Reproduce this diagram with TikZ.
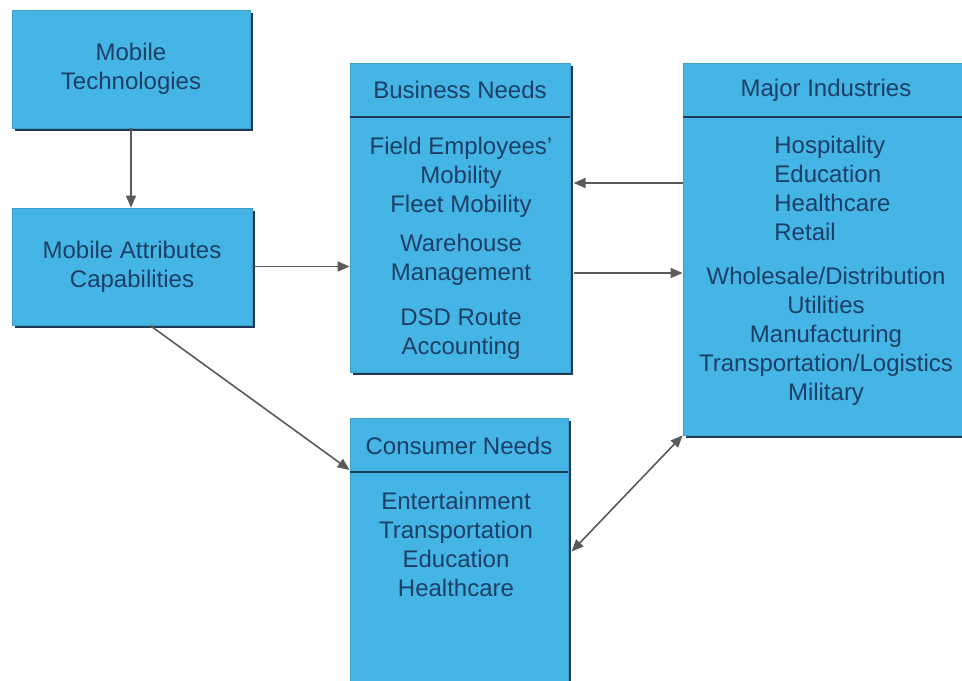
\documentclass[tikz,border=0pt]{standalone}
\usepackage{fontspec}
\setmainfont{Liberation Sans}
\usetikzlibrary{positioning,shadows,arrows.meta}

\definecolor{boxfill}{HTML}{45B5E6}
\definecolor{boxshade}{HTML}{1E3A57}
\definecolor{boxtext}{HTML}{1C3F66}
\definecolor{arrowline}{HTML}{5A5A5A}

\tikzset{
  box/.style={rectangle, fill=boxfill, draw=boxfill!88!black, line width=0.4pt,
    drop shadow={shadow xshift=1.6pt, shadow yshift=-1.6pt, fill=boxshade, opacity=1}},
  txt/.style={text=boxtext, font=\fontsize{12}{14.5}\selectfont, align=center, inner sep=0pt},
  divider/.style={draw=boxshade, line width=1.3pt},
  link/.style={draw=arrowline, line width=0.8pt, -{Triangle[length=6pt,width=5pt]}},
  both/.style={link, {Triangle[length=6pt,width=5pt]}-{Triangle[length=6pt,width=5pt]}}
}

\begin{document}
\begin{tikzpicture}[x=0.5pt, y=-0.5pt]
            \useasboundingbox (0,0) rectangle (962,680);

            % left column
            \node[box, txt, minimum width=119pt, minimum height=59pt] (tech) at (131,69) {Mobile\\Technologies};
            \node[box, txt, minimum width=120pt, minimum height=58.5pt] (attr) at (132,266.5) {Mobile Attributes\\Capabilities};

            % boxes with a header
            \node[box, minimum width=110pt, minimum height=154.5pt] (biz) at (460,217.5) {};
            \node[box, minimum width=143pt, minimum height=186pt] (ind) at (826,249) {};
            \node[box, minimum width=109pt, minimum height=133.5pt] (cons) at (459,551.5) {};

            \draw[divider] (biz.west |- 0,117) -- (biz.east |- 0,117);
            \draw[divider] (ind.west |- 0,117) -- (ind.east |- 0,117);
            \draw[divider] (cons.west |- 0,472) -- (cons.east |- 0,472);

            \node[txt] (bizhead) at (460,90) {Business Needs};
            \node[txt] (indhead) at (826,90) {Major Industries};
            \node[txt] (conshead) at (459,446) {Consumer Needs};

            \node[txt, anchor=north] (bizlist) at (461,137) {Field Employees'\\Mobility\\Fleet Mobility\\[5pt]Warehouse\\Management\\[8pt]DSD Route\\Accounting};
            \node[txt, align=left, anchor=north west] (indtop) at (774,136) {Hospitality\\Education\\Healthcare\\Retail};
            \node[txt, anchor=north] (indbottom) at (826,267) {Wholesale/Distribution\\Utilities\\Manufacturing\\Transportation/Logistics\\Military};
            \node[txt, anchor=north] (conslist) at (456,492) {Entertainment\\Transportation\\Education\\Healthcare};

            % connectors
            \draw[link] (tech.south) -- (tech.south |- attr.north);
            \draw[link] (attr.east) -- (attr.east -| biz.west);
            \draw[link] ([xshift=9pt]attr.south) -- (cons.west |- 0,470);
            \draw[link] ([yshift=33pt]ind.west) -- ([yshift=33pt,xshift=1.6pt]ind.west -| biz.east);
            \draw[link] ([yshift=-27.75pt,xshift=1.6pt]biz.east) -- ([yshift=-27.75pt]biz.east -| ind.west);
            \draw[both] ([xshift=1.6pt]cons.east) -- (ind.south west);
        \end{tikzpicture}
\end{document}
